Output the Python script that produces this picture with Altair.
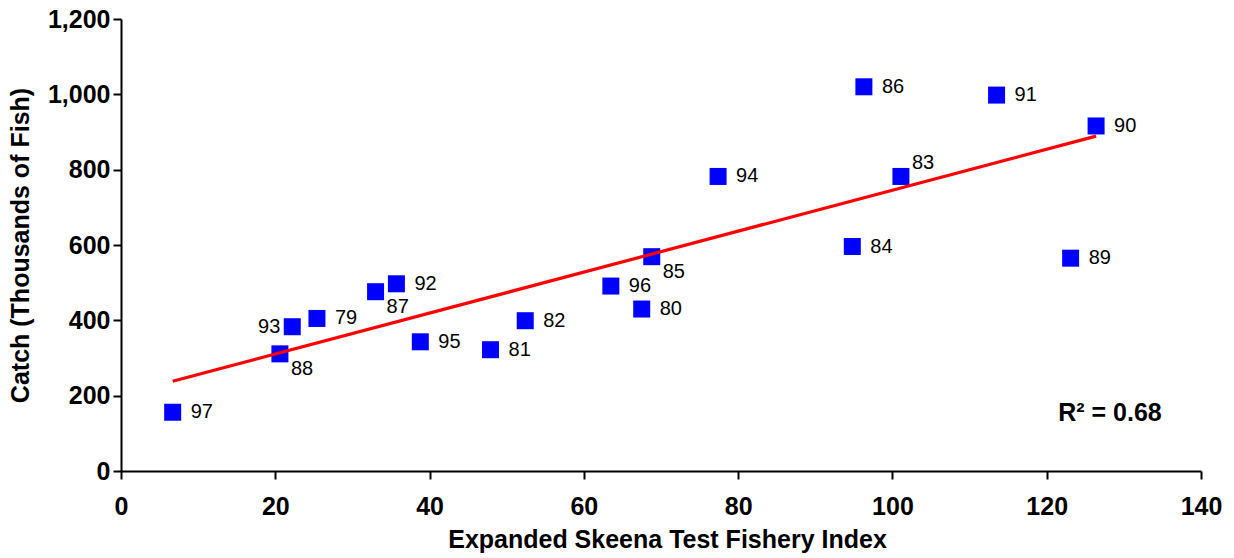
import altair as alt
import pandas as pd

# Return year labels, test fishery index and catch (thousands of fish)
years = ["97", "88", "93", "79", "87", "92", "95", "81", "82", "96",
         "80", "85", "94", "84", "86", "83", "91", "89", "90"]
index_values = [6.7, 20.6, 22.2, 25.4, 33.0, 35.7, 38.8, 47.9, 52.4, 63.5,
                67.5, 68.8, 77.4, 94.8, 96.3, 101.1, 113.5, 123.1, 126.4]
catch_values = [156, 311, 383, 405, 476, 497, 343, 322, 399, 491,
                430, 569, 782, 596, 1020, 782, 998, 565, 916]

# Label placement groups around each square
labels_left = ["93"]
labels_below = ["88", "87", "85"]
labels_above = ["83"]

r2_text = "R\u00b2 = 0.68"
r2_pos_x = [128.2]
r2_pos_y = [154]

FONT = "Liberation Sans"

df = pd.DataFrame({"year": years, "idx": index_values, "catch": catch_values})

x_enc = alt.X("idx:Q",
              scale=alt.Scale(domain=[0, 140], nice=False, zero=True),
              axis=alt.Axis(title="Expanded Skeena Test Fishery Index",
                            values=list(range(0, 141, 20)), format="d",
                            labelFlush=False, labelOverlap=False,
                            titleX=546, titleY=68, titleAlign="center",
                            titleBaseline="middle", labelPadding=15))
y_enc = alt.Y("catch:Q",
              scale=alt.Scale(domain=[0, 1200], nice=False),
              axis=alt.Axis(title="Catch (Thousands of Fish)",
                            values=list(range(0, 1201, 200)), format=",d",
                            labelFlush=False, labelOverlap=False,
                            titleX=-101, titleY=226, titleAngle=270,
                            titleAlign="center", titleBaseline="middle",
                            labelPadding=3))

base = alt.Chart(df)

points = base.mark_square(size=289, color="#0000FF", opacity=1).encode(
    x=x_enc, y=y_enc)

trend = base.transform_regression("idx", "catch").mark_line(
    color="#FF0000", strokeWidth=3.2).encode(x="idx:Q", y="catch:Q")

txt_style = dict(font=FONT, fontSize=20, color="black", baseline="middle")

special = labels_left + labels_below + labels_above
lab_right = base.transform_filter(
    ~alt.FieldOneOfPredicate(field="year", oneOf=special)
).mark_text(align="left", dx=18, **txt_style).encode(
    x="idx:Q", y="catch:Q", text="year:N")

lab_left = base.transform_filter(
    alt.FieldOneOfPredicate(field="year", oneOf=labels_left)
).mark_text(align="right", dx=-12, **txt_style).encode(
    x="idx:Q", y="catch:Q", text="year:N")

lab_below = base.transform_filter(
    alt.FieldOneOfPredicate(field="year", oneOf=labels_below)
).mark_text(align="left", dx=11, dy=15, **txt_style).encode(
    x="idx:Q", y="catch:Q", text="year:N")

lab_above = base.transform_filter(
    alt.FieldOneOfPredicate(field="year", oneOf=labels_above)
).mark_text(align="left", dx=11, dy=-13, **txt_style).encode(
    x="idx:Q", y="catch:Q", text="year:N")

r2 = alt.Chart(pd.DataFrame({"x": r2_pos_x, "y": r2_pos_y, "t": [r2_text]})).mark_text(
    font=FONT, fontSize=25, fontWeight="bold", color="black",
    align="center", baseline="middle").encode(x="x:Q", y="y:Q", text="t:N")

chart = alt.layer(points, trend, lab_right, lab_left, lab_below, lab_above, r2).properties(
    width=1080, height=452,
    autosize=alt.AutoSizeParams(type="none"),
    padding={"left": 121, "top": 19, "right": 33, "bottom": 87},
    background="white",
).configure_view(stroke=None).configure_axis(
    grid=False,
    domainColor="black", domainWidth=2,
    tickColor="black", tickWidth=2, tickSize=8,
    labelFont=FONT, labelFontSize=25, labelFontWeight="bold", labelColor="black",
    titleFont=FONT, titleFontSize=25, titleFontWeight="bold", titleColor="black",
)

chart.save("out.html", embed_options={"renderer": "svg", "actions": False})
